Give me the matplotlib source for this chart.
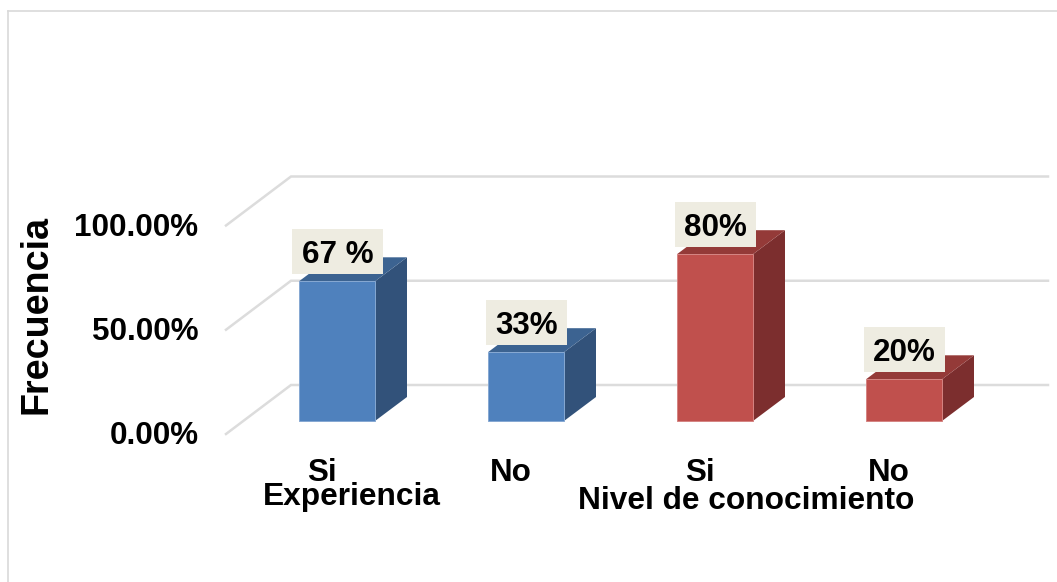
import matplotlib
matplotlib.use("Agg")
import matplotlib.pyplot as plt
from matplotlib.lines import Line2D
from matplotlib.patches import Rectangle

plt.rcParams['font.family'] = ['Liberation Sans', 'DejaVu Sans']
plt.rcParams['font.weight'] = 'bold'

categories = ['Si', 'No', 'Si', 'No']
values = [67, 33, 80, 20]
value_labels = ['67 %', '33%', '80%', '20%']
y_ticks = [0, 50, 100]
y_tick_labels = ['0.00%', '50.00%', '100.00%']

W, H = 1057, 582
PX_PER_CAT = 189.0
PX_PER_PCT = 2.085
X0_PX = 337.0   # centre of first bar
Y0_PX = 421.0   # bottom of bar front

front = {'Experiencia': ('#4F81BD', '#3C6391', '#32527A', '#86A8D2'),
         'Nivel': ('#C0504D', '#943A38', '#7C2E2E', '#D58482')}
bar_styles = [front['Experiencia'], front['Experiencia'], front['Nivel'], front['Nivel']]


def dx(px):
    return px / PX_PER_CAT


def dy(px):
    return px / PX_PER_PCT


fig = plt.figure(figsize=(W / 100, H / 100), dpi=100, facecolor='white')
ax = fig.add_axes([0, 0, 1, 1])
ax.set_xlim(dx(-X0_PX), dx(W - X0_PX))
ax.set_ylim(dy(Y0_PX - H), dy(Y0_PX))
ax.axis('off')

# outer frame of the chart area
for xs, ys in [((8, 8), (582, 11)), ((8, 1057), (11, 11))]:
    fig.add_artist(Line2D([x / W for x in xs], [1 - y / H for y in ys],
                          color='#D9D9D9', lw=1.2))

# floor/back wall gridlines
wall_left = dx(226 - X0_PX)
wall_back = dx(291 - X0_PX)
wall_right = dx(1048 - X0_PX)
for tick, label in zip(y_ticks, y_tick_labels):
    y_front = tick - dy(13)
    y_back = tick + dy(36)
    ax.plot([wall_left, wall_back, wall_right], [y_front, y_back, y_back],
            color='#DCDCDC', lw=1.8, zorder=1, solid_joinstyle='miter')
    ax.text(dx(198.5 - X0_PX), y_front - dy(2.5), label, ha='right', va='center',
            fontsize=22.6, color='black')

# bars with fake depth
bar_w = dx(76)
depth_x = dx(32)
depth_y = dy(24)
xpos = list(range(len(values)))
for x, v, style in zip(xpos, values, bar_styles):
    x0 = x - bar_w / 2
    x1 = x + bar_w / 2
    ax.fill([x1, x1 + depth_x, x1 + depth_x, x1], [0, depth_y, v + depth_y, v],
            color=style[2], lw=0, zorder=2)
    ax.fill([x0, x1, x1 + depth_x, x0 + depth_x], [v, v, v + depth_y, v + depth_y],
            color=style[1], lw=0, zorder=2)
    ax.bar(x, v, width=bar_w, color=style[0], edgecolor=style[3], linewidth=0.7, zorder=3)

# value labels on beige boxes
fig.canvas.draw()
renderer = fig.canvas.get_renderer()
for x, v, label in zip(xpos, values, value_labels):
    yc = v + dy(30)
    t = ax.text(x + dx(0.5), yc - dy(3.5), label, ha='center', va='center', fontsize=22.6,
                color='black', zorder=6)
    w = t.get_window_extent(renderer).width + 19
    ax.add_patch(Rectangle((x + dx(0.5) - dx(w / 2), yc - dy(22.5)), dx(w), dy(45),
                           facecolor='#EEECE1', edgecolor='none', zorder=5))

# category labels
for x, label in zip(xpos, categories):
    ax.text(x - dx(15), dy(421 - 473), label, ha='center', va='center',
            fontsize=22.6, color='black')

# group labels
fig.text(352 / W, 1 - 497 / H, 'Experiencia', ha='center', va='center',
         fontsize=22.8, color='black')
fig.text(746.5 / W, 1 - 501 / H, 'Nivel de conocimiento', ha='center', va='center',
         fontsize=22.8, color='black')
fig.text(36.5 / W, 1 - 314 / H, 'Frecuencia', ha='center', va='center',
         rotation=90, fontsize=27.2, color='black')

fig.savefig('out.png', dpi=100)
